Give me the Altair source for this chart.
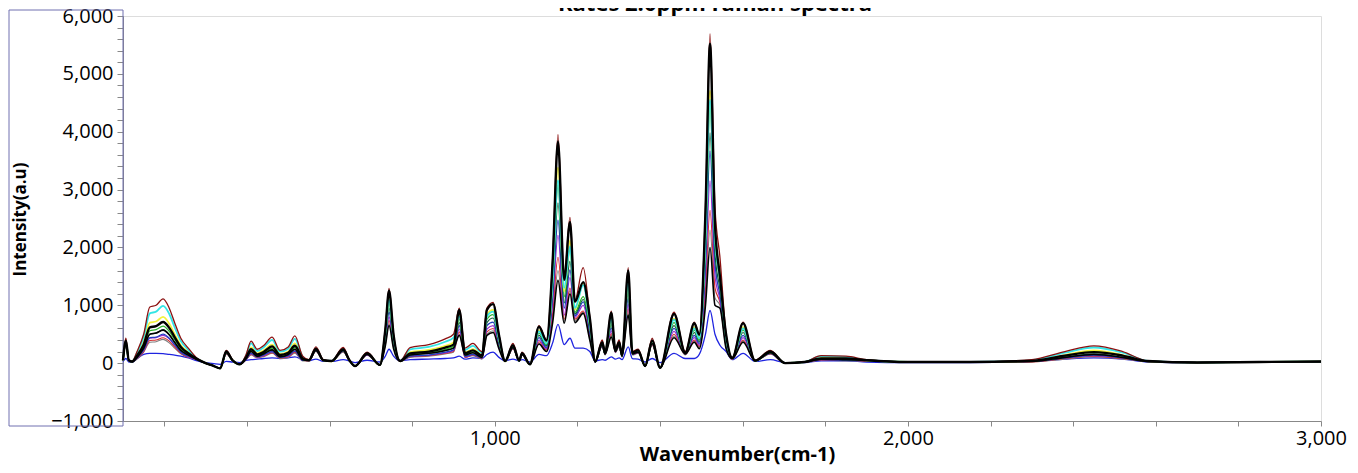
import altair as alt
import pandas as pd

# Wavenumber grid (cm-1)
wavenumber = [100, 107, 114, 122, 134, 150, 165, 180, 197, 212,
              225, 240, 258, 280, 300, 320, 335, 350, 365, 383,
              398, 410, 425, 440, 461, 480, 500, 516, 535, 550,
              567, 585, 605, 633, 648, 662, 691, 722, 735, 744,
              755, 771, 795, 840, 880, 900, 914, 928, 947, 969,
              981, 996, 1010, 1025, 1044, 1059, 1066, 1085, 1107, 1125,
              1140, 1153, 1168, 1182, 1194, 1214, 1230, 1243, 1260, 1267,
              1282, 1292, 1301, 1308, 1323, 1333, 1347, 1364, 1381, 1400,
              1434, 1461, 1483, 1495, 1510, 1521, 1533, 1545, 1560, 1575,
              1601, 1630, 1667, 1703, 1750, 1790, 1850, 1900, 2000, 2150,
              2300, 2380, 2450, 2520, 2580, 2700, 2850, 3000]

maroon = [60, 430, 60, 30, 200, 500, 970, 1000, 1110, 950,
          700, 430, 260, 80, 0, -50, -90, 220, 60, -20,
          150, 380, 240, 300, 450, 220, 280, 470, 120, 60,
          280, 60, 40, 270, 60, -50, 190, -30, 600, 1290,
          500, 40, 270, 320, 420, 500, 950, 260, 340, 200,
          950, 1050, 500, 40, 340, 50, 190, -20, 650, 400,
          1800, 3950, 1480, 2520, 1090, 1650, 800, 30, 400, 200,
          900, 250, 400, 150, 1650, 200, 240, -50, 430, -80,
          880, 200, 710, 500, 2700, 5690, 2700, 1830, 500, 100,
          710, 50, 220, 0, 20, 130, 120, 60, 20, 20,
          60, 200, 300, 200, 40, 10, 20, 30]

black1 = [50, 390, 50, 30, 130, 320, 620, 640, 710, 610,
          450, 280, 170, 70, 0, -50, -90, 200, 50, -20,
          100, 240, 150, 190, 290, 140, 180, 300, 80, 50,
          250, 50, 40, 240, 50, -50, 170, -30, 580, 1250,
          490, 40, 170, 200, 270, 320, 920, 170, 220, 130,
          920, 1020, 490, 40, 310, 45, 170, -20, 630, 390,
          1750, 3830, 1440, 2440, 1060, 1400, 780, 30, 360, 180,
          870, 230, 360, 140, 1600, 180, 220, -50, 390, -80,
          850, 180, 690, 490, 2620, 5520, 2400, 1500, 490, 90,
          690, 45, 200, 0, 20, 80, 80, 50, 20, 20,
          40, 130, 190, 130, 36, 10, 20, 30]

cyan = [50, 380, 50, 30, 180, 450, 860, 890, 990, 850,
        620, 380, 230, 70, 0, -50, -90, 190, 50, -20,
        130, 340, 210, 270, 400, 200, 250, 420, 110, 50,
        250, 50, 40, 240, 50, -50, 170, -30, 510, 1100,
        430, 40, 240, 280, 370, 440, 810, 230, 300, 180,
        810, 890, 430, 40, 300, 40, 170, -20, 550, 340,
        1440, 3160, 1300, 2020, 950, 1350, 680, 30, 350, 180,
        770, 220, 350, 130, 1400, 180, 210, -50, 380, -80,
        750, 180, 600, 430, 2160, 4550, 2160, 1460, 430, 90,
        600, 40, 190, 0, 20, 120, 110, 50, 20, 20,
        50, 180, 270, 180, 40, 10, 20, 30]

yellow = [50, 370, 50, 30, 140, 360, 700, 720, 800, 680,
          500, 310, 190, 70, 0, -50, -90, 190, 50, -20,
          110, 270, 170, 220, 320, 160, 200, 340, 90, 50,
          240, 50, 30, 230, 50, -50, 160, -30, 530, 1140,
          440, 30, 190, 230, 300, 360, 840, 190, 240, 140,
          840, 920, 440, 30, 290, 40, 160, -20, 570, 350,
          1510, 3380, 1240, 2120, 920, 1390, 700, 30, 340, 170,
          790, 210, 340, 130, 1450, 170, 200, -50, 370, -80,
          770, 170, 620, 440, 2270, 4710, 2270, 1540, 440, 85,
          620, 40, 190, 0, 20, 90, 90, 50, 20, 20,
          40, 140, 220, 140, 30, 10, 20, 30]

green = [50, 350, 50, 25, 120, 290, 560, 580, 640, 550,
         410, 250, 150, 70, 0, -50, -90, 180, 50, -20,
         90, 220, 140, 170, 260, 130, 160, 270, 70, 50,
         230, 50, 30, 220, 50, -50, 160, -30, 480, 1030,
         400, 30, 160, 190, 240, 290, 760, 150, 200, 120,
         760, 840, 400, 30, 280, 40, 160, -20, 520, 320,
         1400, 3080, 1150, 1970, 880, 1150, 640, 25, 330, 160,
         720, 210, 330, 120, 1320, 160, 200, -50, 350, -80,
         700, 160, 570, 400, 2110, 4480, 2110, 1430, 400, 80,
         570, 40, 180, 0, 20, 80, 70, 50, 20, 20,
         35, 120, 210, 130, 30, 10, 20, 25]

teal = [50, 340, 50, 20, 100, 260, 500, 520, 580, 490,
        360, 220, 140, 60, 0, -50, -90, 180, 50, -20,
        80, 200, 120, 160, 230, 110, 150, 240, 60, 50,
        220, 50, 30, 220, 50, -50, 150, -30, 440, 950,
        370, 30, 140, 170, 220, 260, 700, 140, 180, 100,
        700, 780, 370, 30, 270, 40, 150, -20, 480, 300,
        1260, 2770, 1040, 1760, 850, 1100, 590, 20, 320, 160,
        670, 200, 320, 120, 1220, 160, 190, -50, 340, -80,
        650, 160, 530, 370, 1890, 3980, 1890, 1280, 370, 80,
        530, 40, 180, 0, 20, 70, 60, 50, 20, 20,
        30, 100, 160, 100, 30, 10, 20, 20]

royal_blue = [50, 340, 50, 20, 90, 230, 440, 450, 500, 430,
              320, 190, 120, 60, 0, -50, -90, 170, 50, -20,
              70, 170, 110, 140, 200, 100, 130, 210, 50, 50,
              220, 50, 30, 210, 50, -50, 150, -30, 410, 880,
              340, 30, 120, 140, 190, 230, 650, 120, 150, 90,
              650, 710, 340, 30, 270, 40, 150, -20, 440, 270,
              1150, 2470, 950, 1610, 820, 1060, 540, 20, 310, 160,
              610, 200, 310, 120, 1120, 160, 190, -50, 340, -80,
              600, 160, 480, 340, 1730, 3670, 1730, 1170, 340, 80,
              480, 40, 170, 0, 20, 60, 50, 50, 20, 20,
              30, 90, 140, 90, 30, 10, 20, 20]

purple = [50, 330, 50, 20, 90, 220, 430, 440, 480, 420,
          310, 190, 110, 60, 0, -50, -90, 170, 50, -20,
          70, 170, 110, 130, 200, 100, 120, 210, 50, 50,
          210, 50, 30, 210, 50, -50, 140, -30, 370, 800,
          310, 30, 120, 140, 180, 220, 590, 110, 150, 90,
          590, 650, 310, 30, 260, 40, 140, -20, 400, 250,
          1010, 2210, 830, 1480, 790, 1000, 500, 20, 300, 150,
          560, 190, 300, 110, 1020, 150, 180, -50, 330, -80,
          550, 150, 440, 310, 1510, 3150, 1510, 1100, 310, 80,
          440, 40, 170, 0, 20, 60, 50, 50, 20, 20,
          30, 90, 130, 90, 30, 10, 20, 20]

red = [40, 320, 40, 20, 80, 200, 390, 400, 440, 380,
       280, 170, 100, 60, 0, -50, -90, 160, 40, -20,
       60, 150, 100, 120, 180, 90, 110, 190, 50, 40,
       210, 40, 30, 200, 40, -50, 140, -30, 340, 740,
       290, 30, 110, 130, 170, 200, 540, 100, 140, 80,
       540, 600, 290, 30, 250, 40, 140, -20, 370, 230,
       860, 1830, 760, 1300, 760, 900, 460, 20, 300, 150,
       510, 190, 300, 110, 940, 150, 180, -50, 320, -80,
       500, 150, 400, 290, 1300, 2640, 1300, 1050, 290, 70,
       400, 40, 160, 0, 20, 50, 50, 40, 20, 20,
       20, 80, 120, 80, 30, 10, 20, 20]

gray = [40, 310, 40, 20, 70, 190, 360, 370, 410, 350,
        260, 160, 100, 60, 0, -50, -90, 160, 40, -20,
        60, 140, 90, 110, 170, 80, 100, 170, 40, 40,
        200, 40, 30, 190, 40, -50, 140, -30, 320, 680,
        270, 30, 100, 120, 160, 190, 500, 100, 130, 70,
        500, 560, 270, 30, 250, 40, 140, -20, 340, 210,
        760, 1600, 720, 1250, 730, 880, 420, 20, 290, 140,
        480, 180, 290, 110, 870, 140, 170, -50, 310, -80,
        470, 140, 380, 270, 1130, 2300, 1130, 1000, 270, 70,
        380, 40, 160, 0, 10, 50, 40, 40, 10, 10,
        20, 70, 110, 70, 30, 10, 10, 20]

black2 = [50, 340, 50, 20, 100, 260, 500, 520, 570, 490,
          360, 220, 140, 60, 0, -50, -90, 180, 50, -20,
          80, 200, 120, 160, 230, 110, 150, 240, 60, 50,
          220, 50, 30, 220, 50, -50, 150, -30, 300, 650,
          250, 30, 140, 170, 220, 260, 480, 140, 180, 100,
          480, 530, 250, 30, 270, 40, 150, -20, 330, 200,
          700, 1430, 690, 1200, 700, 860, 400, 20, 320, 160,
          450, 200, 320, 120, 830, 160, 190, -50, 340, -80,
          440, 160, 360, 250, 1000, 2000, 1000, 950, 250, 80,
          360, 40, 180, 0, 20, 70, 60, 50, 20, 20,
          30, 100, 150, 100, 30, 10, 20, 20]

thin_blue = [30, 80, 20, 20, 80, 150, 170, 170, 165, 150,
             140, 120, 90, 40, 10, -10, -20, 30, 20, 10,
             50, 60, 70, 80, 90, 80, 90, 110, 60, 40,
             70, 30, 30, 60, 40, 10, 50, 20, 120, 240,
             120, 40, 60, 70, 80, 90, 120, 70, 90, 80,
             150, 190, 100, 40, 70, 40, 60, 20, 150, 130,
             350, 670, 320, 430, 260, 260, 200, 40, 60, 50,
             110, 70, 90, 60, 280, 80, 70, 20, 80, 10,
             170, 80, 80, 150, 500, 910, 500, 310, 200, 60,
             170, 30, 60, 10, 10, 40, 40, 20, 10, 10,
             30, 70, 90, 70, 20, 10, 20, 25]

title_text = "Rates 2.0ppm raman spectra"

# drawing order: first = bottom
series = [
    ("thin blue", thin_blue, "#1f24e0", 1.3),
    ("gray", gray, "#7f7f7f", 1.1),
    ("red", red, "#d42a2a", 1.1),
    ("purple", purple, "#9a2bd0", 1.2),
    ("royal blue", royal_blue, "#1f3fbf", 1.3),
    ("teal", teal, "#0e5c3a", 1.2),
    ("green", green, "#2db32d", 1.3),
    ("yellow", yellow, "#f2f23c", 1.8),
    ("cyan", cyan, "#33e5e5", 1.8),
    ("maroon", maroon, "#8b1010", 1.3),
    ("black2", black2, "#000000", 1.6),
    ("black1", black1, "#000000", 2.4),
]

x_axis = alt.Axis(
    values=list(range(200, 3001, 200)),
    labelExpr="datum.value % 1000 == 0 ? format(datum.value, ',') : ''",
    grid=False, tickSize=5, tickColor="#888888", domainColor="#888888",
    labelFont="Open Sans", labelFontSize=20, labelColor="#000000",
    labelPadding=2, labelFlush=False, labelOverlap=False,
    title="Wavenumber(cm-1)", titleFont="Open Sans", titleFontSize=20,
    titleFontWeight="bold", titleColor="#000000",
    titleX=614, titleY=33, titleBaseline="middle", titleAlign="center",
)
y_axis = alt.Axis(
    values=list(range(-1000, 6001, 200)),
    labelExpr="datum.value % 1000 == 0 ? format(datum.value, ',') : ''",
    grid=False, tickSize=6, tickColor="#888888", domainColor="#888888",
    labelFont="Open Sans", labelFontSize=20, labelColor="#000000",
    labelPadding=4, labelOverlap=False,
    title="Intensity(a.u)", titleFont="Open Sans", titleFontSize=17,
    titleFontWeight="bold", titleColor="#000000",
    titleX=-103, titleY=203, titleAngle=-90, titleAlign="center",
    titleBaseline="middle",
)

layers = []
for name, vals, color, w in series:
    df = pd.DataFrame({"wavenumber": wavenumber, "intensity": vals, "series": name})
    layers.append(
        alt.Chart(df).mark_line(color=color, strokeWidth=w, interpolate="monotone").encode(
            x=alt.X("wavenumber:Q", scale=alt.Scale(domain=[100, 3000], nice=False, zero=False), axis=x_axis),
            y=alt.Y("intensity:Q", scale=alt.Scale(domain=[-1000, 6000], nice=False), axis=y_axis),
        )
    )

frame = alt.Chart(pd.DataFrame({"k": [0]})).mark_rect(
    fillOpacity=0, stroke="#7070b0", strokeWidth=1
).encode(x=alt.value(-114), x2=alt.value(0), y=alt.value(-6), y2=alt.value(410))

title_mark = alt.Chart(pd.DataFrame({"t": [title_text]})).mark_text(
    font="Open Sans", fontSize=22, fontWeight="bold", color="#000000",
    align="center", baseline="alphabetic",
).encode(text="t:N", x=alt.value(592), y=alt.value(-5))

chart = alt.layer(frame, *layers, title_mark).properties(
    width=1198,
    height=405,
    autosize=alt.AutoSizeParams(type="none"),
    padding={"left": 115, "top": 8, "right": 29, "bottom": 44},
).configure_view(strokeWidth=0).configure(background="white")

chart.save("out.html", embed_options={"renderer": "svg", "actions": False})
